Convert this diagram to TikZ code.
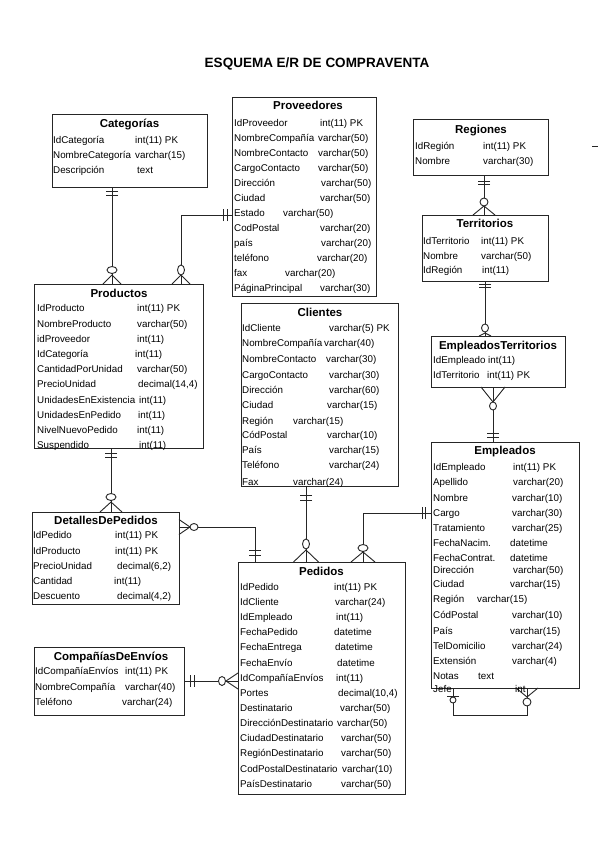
\documentclass[tikz,border=0pt]{standalone}
\usepackage{fontspec}
\setmainfont{Liberation Sans}
\usetikzlibrary{calc}
\tikzset{
  ertable/.style={draw=black!85, line width=1pt, inner sep=0pt, outer sep=0pt, anchor=north west},
  ertitle/.style={anchor=base, inner sep=0pt, font=\fontsize{11.5}{13}\selectfont\bfseries},
  ercell/.style={anchor=base west, inner sep=0pt, font=\fontsize{9.8}{11}\selectfont},
  erline/.style={draw=black!85, line width=0.9pt},
}
\newcommand{\ERbox}[8]{%
  \node[ertable, minimum width=#4pt, minimum height=#5pt] (#1) at (#2,#3) {};
  \node[ertitle] (#1-title) at (#7,#8+4.2) {#6};}
\newcommand{\ERrow}[7]{%
  \node[ercell] (#1-n#2) at (#4,#3+3.6) {#5};
  \node[ercell] (#1-t#2) at (#6,#3+3.6) {#7};}
\newcommand{\ERbars}[4]{\begin{scope}[shift={(#1)},rotate=#2]
  \draw[erline] (#3,-6) -- (#3,6) (#4,-6) -- (#4,6);\end{scope}}
\newcommand{\ERmany}[7]{\begin{scope}[shift={(#1)},rotate=#2]
  \draw[erline] (0,#3) -- (#4,0) -- (0,-#3);
  \draw[erline, fill=white] (#5,0) ellipse [x radius=#6, y radius=#7];\end{scope}}
\newcommand{\ERzone}[5]{\begin{scope}[shift={(#1)},rotate=#2]
  \draw[erline] (#3,-6) -- (#3,6);
  \draw[erline, fill=white] (#4,0) circle [radius=#5];\end{scope}}
\begin{document}
\begin{tikzpicture}[x=1pt,y=-1pt]
\fill[white] (0,0) rectangle (599,848);
\useasboundingbox (0,0) rectangle (599,848);
\node[font=\fontsize{13.5}{15}\selectfont\bfseries, anchor=base, inner sep=0pt] (title) at (317,63+4.9) {ESQUEMA E/R DE COMPRAVENTA};

% tables
\ERbox{cat}{52}{115}{155}{72}{Categorías}{129.5}{123}
\ERbox{prov}{232}{98}{144}{198}{Proveedores}{308}{105}
\ERbox{reg}{413}{120}{135}{55}{Regiones}{481}{129}
\ERbox{terr}{422}{215}{126}{66}{Territorios}{485}{223}
\ERbox{et}{431}{336}{134}{51}{EmpleadosTerritorios}{498}{345}
\ERbox{emp}{431}{442}{148}{246}{Empleados}{505}{450}
\ERbox{prod}{34}{284}{169}{164}{Productos}{119}{293}
\ERbox{cli}{241}{303}{157}{183}{Clientes}{320}{312}
\ERbox{det}{32}{512}{147}{92}{DetallesDePedidos}{106}{520}
\ERbox{ped}{238}{562}{167}{232}{Pedidos}{321.5}{571}
\ERbox{comp}{34}{647}{150}{68}{CompañíasDeEnvíos}{111}{656}

% helper coordinates
\coordinate (X112) at (112,0);
\coordinate (X181) at (181,0);
\coordinate (X484) at (484,0);
\coordinate (X485) at (485,0);
\coordinate (X493) at (493,0);
\coordinate (X111) at (111,0);
\coordinate (X255) at (255,0);
\coordinate (X306) at (306,0);
\coordinate (X363) at (363,0);
\coordinate (X453) at (453,0);
\coordinate (X527) at (527,0);
\coordinate (Y215) at (0,215);
\coordinate (Y527) at (0,527);
\coordinate (Y513) at (0,513);
\coordinate (Y681) at (0,681);
\coordinate (Y715) at (0,715);

% connectors
\draw[erline] (cat.south -| X112) -- (prod.north -| X112);
\draw[erline] (prov.west |- Y215) -| (prod.north -| X181);
\draw[erline] (reg.south -| X484) -- (terr.north -| X484);
\draw[erline] (terr.south -| X485) -- (et.north -| X485);
\draw[erline] (et.south -| X493) -- (emp.north -| X493);
\draw[erline] (prod.south -| X111) -- (det.north -| X111);
\draw[erline] (det.east |- Y527) -| (ped.north -| X255);
\draw[erline] (cli.south -| X306) -- (ped.north -| X306);
\draw[erline] (emp.west |- Y513) -| (ped.north -| X363);
\draw[erline] (comp.east |- Y681) -- (ped.west |- Y681);
\draw[erline] (emp.south -| X453) -- (X453 |- Y715) -- (X527 |- Y715) -- (emp.south -| X527);
\draw[erline] (592,146) -- (598,146);

% end marks
\ERbars{cat.south -| X112}{-90}{4}{8}
\ERmany{prod.north -| X112}{90}{9}{9}{14}{3.5}{5}
\ERbars{prov.west |- Y215}{180}{5}{9}
\ERmany{prod.north -| X181}{90}{9}{9}{14}{5}{3.5}
\ERbars{reg.south -| X484}{-90}{6}{9}
\ERmany{terr.north -| X484}{90}{11}{9}{13}{4}{4}
\ERbars{terr.south -| X485}{-90}{3}{6}
\ERmany{et.north -| X485}{90}{6}{3}{8}{4}{3.5}
\ERmany{et.south -| X493}{-90}{12}{15}{19}{4}{3.5}
\ERbars{emp.north -| X493}{90}{5}{9}
\ERbars{prod.south -| X111}{-90}{5}{9}
\ERmany{det.north -| X111}{90}{11}{10}{15}{3.5}{5}
\ERmany{det.east |- Y527}{0}{7.5}{11}{15}{4}{3.5}
\ERbars{ped.north -| X255}{90}{7}{12}
\ERbars{cli.south -| X306}{-90}{9}{14}
\ERmany{ped.north -| X306}{90}{12.5}{12}{18}{5}{3.5}
\ERbars{emp.west |- Y513}{180}{6}{9}
\ERmany{ped.north -| X363}{90}{12}{10}{14}{3.5}{5}
\ERbars{comp.east |- Y681}{0}{6}{10}
\ERmany{ped.west |- Y681}{180}{8}{12}{16}{3.5}{4.5}
\ERzone{emp.south -| X453}{-90}{8}{12}{3}
\ERmany{emp.south -| X527}{-90}{11}{9}{14}{4}{4}

% rows: Categorias
\ERrow{cat}{1}{140}{53}{IdCategoría}{135}{int(11) PK}
\ERrow{cat}{2}{155}{53}{NombreCategoría}{135}{varchar(15)}
\ERrow{cat}{3}{170}{53}{Descripción}{137}{text}
% Proveedores
\ERrow{prov}{1}{122.5}{234}{IdProveedor}{320}{int(11) PK}
\ERrow{prov}{2}{137.5}{234}{NombreCompañía}{318}{varchar(50)}
\ERrow{prov}{3}{152.5}{234}{NombreContacto}{318}{varchar(50)}
\ERrow{prov}{4}{167.5}{234}{CargoContacto}{318}{varchar(50)}
\ERrow{prov}{5}{182.5}{234}{Dirección}{321}{varchar(50)}
\ERrow{prov}{6}{197.5}{234}{Ciudad}{320}{varchar(50)}
\ERrow{prov}{7}{212.5}{234}{Estado}{283}{varchar(50)}
\ERrow{prov}{8}{227.5}{234}{CodPostal}{320}{varchar(20)}
\ERrow{prov}{9}{242.5}{234}{país}{321}{varchar(20)}
\ERrow{prov}{10}{257.5}{234}{teléfono}{317}{varchar(20)}
\ERrow{prov}{11}{272.5}{234}{fax}{285}{varchar(20)}
\ERrow{prov}{12}{287.5}{234}{PáginaPrincipal}{320}{varchar(30)}
% Regiones
\ERrow{reg}{1}{146}{415}{IdRegión}{483}{int(11) PK}
\ERrow{reg}{2}{161}{415}{Nombre}{483}{varchar(30)}
% Territorios
\ERrow{terr}{1}{241}{423}{IdTerritorio}{481}{int(11) PK}
\ERrow{terr}{2}{255.5}{423}{Nombre}{481}{varchar(50)}
\ERrow{terr}{3}{270}{423}{IdRegión}{482}{int(11)}
% EmpleadosTerritorios
\ERrow{et}{1}{360}{433}{IdEmpleado}{488}{int(11)}
\ERrow{et}{2}{375}{433}{IdTerritorio}{487}{int(11) PK}
% Empleados
\ERrow{emp}{1}{467}{433}{IdEmpleado}{513}{int(11) PK}
\ERrow{emp}{2}{482}{433}{Apellido}{513}{varchar(20)}
\ERrow{emp}{3}{498}{433}{Nombre}{512}{varchar(10)}
\ERrow{emp}{4}{513}{433}{Cargo}{512}{varchar(30)}
\ERrow{emp}{5}{528}{433}{Tratamiento}{512}{varchar(25)}
\ERrow{emp}{6}{543}{433}{FechaNacim.}{510}{datetime}
\ERrow{emp}{7}{558}{433}{FechaContrat.}{510}{datetime}
\ERrow{emp}{8}{570}{433}{Dirección}{513}{varchar(50)}
\ERrow{emp}{9}{584}{433}{Ciudad}{510}{varchar(15)}
\ERrow{emp}{10}{599}{433}{Región}{477}{varchar(15)}
\ERrow{emp}{11}{615}{433}{CódPostal}{512}{varchar(10)}
\ERrow{emp}{12}{631}{433}{País}{510}{varchar(15)}
\ERrow{emp}{13}{646}{433}{TelDomicilio}{512}{varchar(24)}
\ERrow{emp}{14}{661}{433}{Extensión}{512}{varchar(4)}
\ERrow{emp}{15}{676}{433}{Notas}{478}{text}
\ERrow{emp}{16}{689}{433}{Jefe}{515}{int}
% Productos
\ERrow{prod}{1}{308}{37}{IdProducto}{137}{int(11) PK}
\ERrow{prod}{2}{324}{37}{NombreProducto}{137}{varchar(50)}
\ERrow{prod}{3}{339}{37}{idProveedor}{137}{int(11)}
\ERrow{prod}{4}{354}{37}{IdCategoría}{135}{int(11)}
\ERrow{prod}{5}{369}{37}{CantidadPorUnidad}{137}{varchar(50)}
\ERrow{prod}{6}{384}{37}{PrecioUnidad}{138}{decimal(14,4)}
\ERrow{prod}{7}{400}{37}{UnidadesEnExistencia}{139}{int(11)}
\ERrow{prod}{8}{415}{37}{UnidadesEnPedido}{138}{int(11)}
\ERrow{prod}{9}{430}{37}{NivelNuevoPedido}{137}{int(11)}
\ERrow{prod}{10}{445}{37}{Suspendido}{139}{int(11)}
% Clientes
\ERrow{cli}{1}{328}{242}{IdCliente}{329}{varchar(5) PK}
\ERrow{cli}{2}{343}{242}{NombreCompañía}{324}{varchar(40)}
\ERrow{cli}{3}{359}{242}{NombreContacto}{326}{varchar(30)}
\ERrow{cli}{4}{375}{242}{CargoContacto}{329}{varchar(30)}
\ERrow{cli}{5}{390}{242}{Dirección}{329}{varchar(60)}
\ERrow{cli}{6}{405}{242}{Ciudad}{327}{varchar(15)}
\ERrow{cli}{7}{421}{242}{Región}{293}{varchar(15)}
\ERrow{cli}{8}{435}{242}{CódPostal}{327}{varchar(10)}
\ERrow{cli}{9}{450}{242}{País}{329}{varchar(15)}
\ERrow{cli}{10}{465}{242}{Teléfono}{329}{varchar(24)}
\ERrow{cli}{11}{482}{242}{Fax}{293}{varchar(24)}
% DetallesDePedidos
\ERrow{det}{1}{535}{33}{IdPedido}{115}{int(11) PK}
\ERrow{det}{2}{551}{33}{IdProducto}{115}{int(11) PK}
\ERrow{det}{3}{566}{33}{PrecioUnidad}{117}{decimal(6,2)}
\ERrow{det}{4}{581}{33}{Cantidad}{114}{int(11)}
\ERrow{det}{5}{596}{33}{Descuento}{117}{decimal(4,2)}
% Pedidos
\ERrow{ped}{1}{587}{240}{IdPedido}{334}{int(11) PK}
\ERrow{ped}{2}{602}{240}{IdCliente}{335}{varchar(24)}
\ERrow{ped}{3}{617}{240}{IdEmpleado}{336}{int(11)}
\ERrow{ped}{4}{632}{240}{FechaPedido}{334}{datetime}
\ERrow{ped}{5}{647}{240}{FechaEntrega}{335}{datetime}
\ERrow{ped}{6}{663}{240}{FechaEnvío}{337}{datetime}
\ERrow{ped}{7}{678}{240}{IdCompañíaEnvíos}{336}{int(11)}
\ERrow{ped}{8}{693}{240}{Portes}{338}{decimal(10,4)}
\ERrow{ped}{9}{708}{240}{Destinatario}{340}{varchar(50)}
\ERrow{ped}{10}{723}{240}{DirecciónDestinatario}{337}{varchar(50)}
\ERrow{ped}{11}{738}{240}{CiudadDestinatario}{341}{varchar(50)}
\ERrow{ped}{12}{753}{240}{RegiónDestinatario}{341}{varchar(50)}
\ERrow{ped}{13}{769}{240}{CodPostalDestinatario}{342}{varchar(10)}
\ERrow{ped}{14}{784}{240}{PaísDestinatario}{341}{varchar(50)}
% CompaniasDeEnvios
\ERrow{comp}{1}{671}{35}{IdCompañíaEnvíos}{125}{int(11) PK}
\ERrow{comp}{2}{687}{35}{NombreCompañía}{125}{varchar(40)}
\ERrow{comp}{3}{702}{35}{Teléfono}{122}{varchar(24)}
\end{tikzpicture}
\end{document}
